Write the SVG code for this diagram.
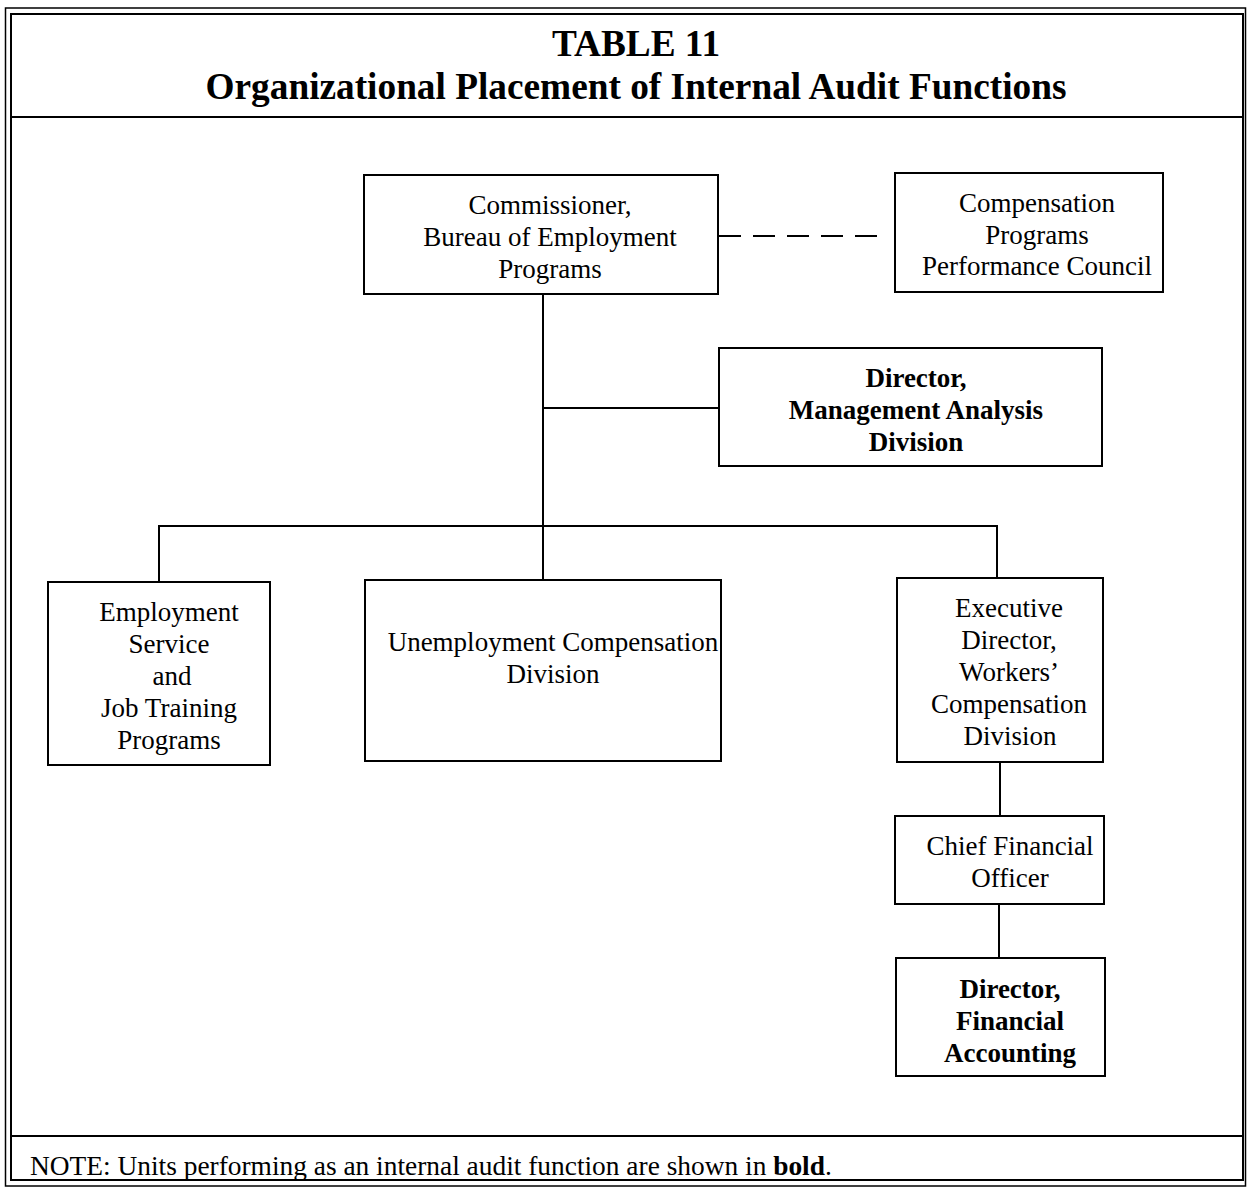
<svg xmlns="http://www.w3.org/2000/svg" width="1248" height="1188" viewBox="0 0 1248 1188">
<style>
.box{fill:#fff;stroke:#000;stroke-width:2}
.frame{fill:none;stroke:#000}
.ln{stroke:#000;stroke-width:2;fill:none}
.t{font-family:"Liberation Serif","Times New Roman",serif;font-size:27px;text-anchor:middle;fill:#000}
.b{font-weight:bold}
.title{font-family:"Liberation Serif","Times New Roman",serif;font-size:37.3px;font-weight:bold;text-anchor:middle;fill:#000}
.note{font-family:"Liberation Serif","Times New Roman",serif;font-size:27.4px;fill:#000}
</style>
<rect width="1248" height="1188" fill="#fff"/>
<g id="frame">
<rect class="frame" x="5.5" y="8" width="1240" height="1178" stroke-width="1.5"/>
<rect class="frame" x="11" y="14" width="1232" height="1166" stroke-width="2"/>
<line class="ln" x1="11" y1="117" x2="1243" y2="117"/>
<line class="ln" x1="11" y1="1136" x2="1243" y2="1136"/>
</g>
<g id="title">
<text class="title" x="636" y="56">TABLE 11</text>
<text class="title" x="636" y="99">Organizational Placement of Internal Audit Functions</text>
</g>
<g id="connectors">
<line class="ln" x1="543" y1="294" x2="543" y2="580"/>
<line class="ln" x1="543" y1="408" x2="719" y2="408"/>
<polyline class="ln" points="159,582 159,526 997,526 997,578"/>
<line class="ln" x1="719" y1="236" x2="882" y2="236" stroke-dasharray="22,12"/>
<line class="ln" x1="1000" y1="762" x2="1000" y2="816"/>
<line class="ln" x1="999" y1="904" x2="999" y2="958"/>
</g>
<g id="commissioner">
<rect class="box" x="364" y="175" width="354" height="119"/>
<text class="t" x="550" y="214">Commissioner,</text>
<text class="t" x="550" y="246">Bureau of Employment</text>
<text class="t" x="550" y="278">Programs</text>
</g>
<g id="council">
<rect class="box" x="895" y="173" width="268" height="119"/>
<text class="t" x="1037" y="212">Compensation</text>
<text class="t" x="1037" y="244">Programs</text>
<text class="t" x="1037" y="275">Performance Council</text>
</g>
<g id="mad">
<rect class="box" x="719" y="348" width="383" height="118"/>
<text class="t b" x="916" y="387">Director,</text>
<text class="t b" x="916" y="419">Management Analysis</text>
<text class="t b" x="916" y="451">Division</text>
</g>
<g id="employment">
<rect class="box" x="48" y="582" width="222" height="183"/>
<text class="t" x="169" y="621">Employment</text>
<text class="t" x="169" y="653">Service</text>
<text class="t" x="172" y="685">and</text>
<text class="t" x="169" y="717">Job Training</text>
<text class="t" x="169" y="749">Programs</text>
</g>
<g id="unemployment">
<rect class="box" x="365" y="580" width="356" height="181"/>
<text class="t" x="553" y="651">Unemployment Compensation</text>
<text class="t" x="553" y="683">Division</text>
</g>
<g id="workers">
<rect class="box" x="897" y="578" width="206" height="184"/>
<text class="t" x="1009" y="617">Executive</text>
<text class="t" x="1009" y="649">Director,</text>
<text class="t" x="1009" y="681">Workers’</text>
<text class="t" x="1009" y="713">Compensation</text>
<text class="t" x="1010" y="745">Division</text>
</g>
<g id="cfo">
<rect class="box" x="895" y="816" width="209" height="88"/>
<text class="t" x="1010" y="855">Chief Financial</text>
<text class="t" x="1010" y="887">Officer</text>
</g>
<g id="dfa">
<rect class="box" x="896" y="958" width="209" height="118"/>
<text class="t b" x="1010" y="998">Director,</text>
<text class="t b" x="1010" y="1030">Financial</text>
<text class="t b" x="1010" y="1062">Accounting</text>
</g>
<g id="note">
<text class="note" x="30" y="1175">NOTE: Units performing as an internal audit function are shown in <tspan font-weight="bold">bold</tspan>.</text>
</g>
</svg>
